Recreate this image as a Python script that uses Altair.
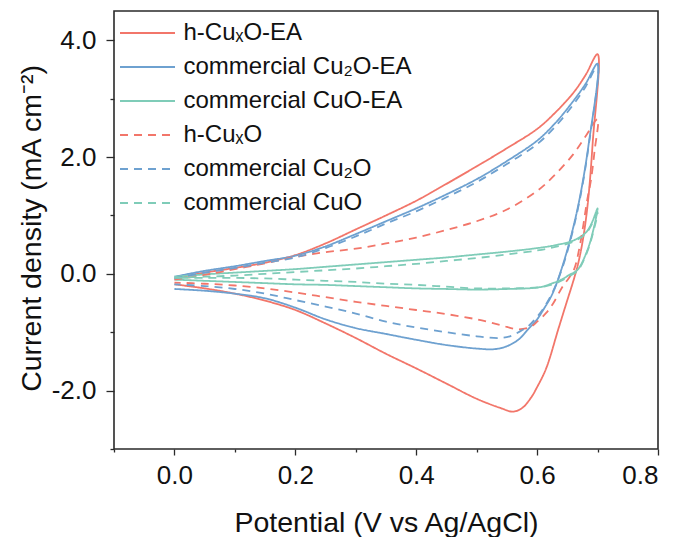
import altair as alt
import pandas as pd

# Series names (legend order) and styles
SERIES = [
    "h-CuₓO-EA",
    "commercial Cu₂O-EA",
    "commercial CuO-EA",
    "h-CuₓO",
    "commercial Cu₂O",
    "commercial CuO",
]
COLORS = ["#F2766A", "#6EA1D0", "#7FCCB8", "#F2766A", "#6EA1D0", "#7FCCB8"]
DASHES = [[1, 0], [1, 0], [1, 0], [8, 6], [8, 6], [8, 6]]

# Forward (anodic) scan potentials, V vs Ag/AgCl
V_FWD = [0.0, 0.05, 0.1, 0.15, 0.2, 0.25, 0.3, 0.35, 0.4, 0.45, 0.5, 0.55,
         0.6, 0.63, 0.66, 0.68, 0.7]
V_FWD_CUO = [0.0, 0.05, 0.1, 0.15, 0.2, 0.25, 0.3, 0.35, 0.4, 0.45, 0.5, 0.55,
             0.6, 0.63, 0.66, 0.68, 0.69, 0.7]

# h-CuxO-EA
hcuxo_ea_j_fwd = [-0.08, 0.02, 0.1, 0.19, 0.32, 0.52, 0.76, 1.0, 1.25, 1.54, 1.84,
                  2.15, 2.48, 2.76, 3.1, 3.4, 3.76]
hcuxo_ea_v_rev = [0.692, 0.684, 0.676, 0.668, 0.66, 0.65, 0.635, 0.615, 0.6,
                  0.59, 0.575, 0.56, 0.54, 0.5, 0.45, 0.4, 0.35, 0.3, 0.25, 0.2,
                  0.15, 0.1, 0.05, 0.0]
hcuxo_ea_j_rev = [2.25, 1.22, 0.6, 0.18, -0.12, -0.45, -0.95, -1.62, -1.94, -2.12,
                  -2.3, -2.36, -2.3, -2.14, -1.88, -1.62, -1.37, -1.1, -0.85,
                  -0.62, -0.46, -0.34, -0.25, -0.18]

# commercial Cu2O-EA
cu2o_ea_j_fwd = [-0.05, 0.05, 0.13, 0.22, 0.31, 0.47, 0.68, 0.9, 1.12, 1.36, 1.62,
                 1.93, 2.28, 2.58, 2.96, 3.25, 3.6]
cu2o_ea_v_rev = [0.685, 0.67, 0.655, 0.64, 0.625, 0.61, 0.6, 0.585, 0.57, 0.55,
                 0.53, 0.5, 0.45, 0.4, 0.35, 0.3, 0.25, 0.2, 0.15, 0.1, 0.05, 0.0]
cu2o_ea_j_rev = [2.2, 1.27, 0.6, 0.07, -0.35, -0.62, -0.78, -0.95, -1.12, -1.24,
                 -1.29, -1.28, -1.22, -1.13, -1.03, -0.93, -0.78, -0.58, -0.42,
                 -0.34, -0.29, -0.26]

# commercial CuO-EA
cuo_ea_j_fwd = [-0.05, -0.01, 0.02, 0.05, 0.08, 0.12, 0.16, 0.2, 0.24, 0.28, 0.33,
                0.38, 0.44, 0.49, 0.57, 0.7, 0.86, 1.12]
cuo_ea_v_rev = [0.693, 0.683, 0.667, 0.653, 0.64, 0.626, 0.604, 0.55, 0.5, 0.45,
                0.4, 0.35, 0.3, 0.25, 0.2, 0.15, 0.1, 0.05, 0.0]
cuo_ea_j_rev = [0.75, 0.4, 0.07, -0.02, -0.1, -0.16, -0.23, -0.26, -0.27, -0.26,
                -0.25, -0.23, -0.21, -0.19, -0.18, -0.16, -0.14, -0.12, -0.1]

# h-CuxO
hcuxo_j_fwd = [-0.1, -0.02, 0.08, 0.18, 0.29, 0.37, 0.43, 0.52, 0.62, 0.75, 0.9,
               1.1, 1.42, 1.7, 2.05, 2.35, 2.65]
hcuxo_v_rev = [0.695, 0.689, 0.683, 0.671, 0.661, 0.652, 0.642, 0.627, 0.615, 0.6,
               0.589, 0.567, 0.54, 0.5, 0.45, 0.4, 0.35, 0.3, 0.25, 0.2, 0.15,
               0.1, 0.05, 0.0]
hcuxo_j_rev = [2.1, 1.6, 1.27, 0.5, 0.07, -0.08, -0.22, -0.5, -0.67, -0.82, -0.91,
               -0.95, -0.88, -0.78, -0.69, -0.62, -0.55, -0.48, -0.4, -0.32,
               -0.25, -0.2, -0.17, -0.15]

# commercial Cu2O
cu2o_j_fwd = [-0.08, 0.02, 0.1, 0.19, 0.28, 0.44, 0.64, 0.86, 1.07, 1.31, 1.57,
              1.88, 2.22, 2.52, 2.9, 3.2, 3.56]
cu2o_v_rev = [0.685, 0.67, 0.655, 0.64, 0.625, 0.61, 0.598, 0.585, 0.571, 0.555,
              0.5375, 0.5, 0.45, 0.4, 0.35, 0.3, 0.25, 0.2, 0.15, 0.1, 0.05, 0.0]
cu2o_j_rev = [2.17, 1.24, 0.57, 0.05, -0.33, -0.6, -0.76, -0.9, -0.99, -1.07,
              -1.1, -1.07, -1.0, -0.92, -0.82, -0.68, -0.56, -0.45, -0.34, -0.26,
              -0.21, -0.18]

# commercial CuO
cuo_j_fwd = [-0.07, -0.05, -0.03, 0.0, 0.03, 0.06, 0.09, 0.13, 0.17, 0.22, 0.27,
             0.33, 0.4, 0.46, 0.55, 0.68, 0.84, 1.05]
cuo_v_rev = [0.693, 0.683, 0.667, 0.653, 0.64, 0.626, 0.604, 0.55, 0.5, 0.45, 0.4,
             0.35, 0.3, 0.25, 0.2, 0.15, 0.1, 0.05, 0.0]
cuo_j_rev = [0.72, 0.38, 0.05, -0.04, -0.12, -0.18, -0.23, -0.25, -0.25, -0.22,
             -0.19, -0.17, -0.14, -0.12, -0.1, -0.08, -0.07, -0.07, -0.07]

CURVES = [
    (SERIES[0], V_FWD, hcuxo_ea_j_fwd, hcuxo_ea_v_rev, hcuxo_ea_j_rev),
    (SERIES[1], V_FWD, cu2o_ea_j_fwd, cu2o_ea_v_rev, cu2o_ea_j_rev),
    (SERIES[2], V_FWD_CUO, cuo_ea_j_fwd, cuo_ea_v_rev, cuo_ea_j_rev),
    (SERIES[3], V_FWD, hcuxo_j_fwd, hcuxo_v_rev, hcuxo_j_rev),
    (SERIES[4], V_FWD, cu2o_j_fwd, cu2o_v_rev, cu2o_j_rev),
    (SERIES[5], V_FWD_CUO, cuo_j_fwd, cuo_v_rev, cuo_j_rev),
]

# Axis tick positions (majors labelled, minors unlabelled)
X_TICKS = [-0.1, 0.0, 0.1, 0.2, 0.3, 0.4, 0.5, 0.6, 0.7, 0.8]
Y_TICKS = [-3, -2, -1, 0, 1, 2, 3, 4]

rows = []
for name, vf, jf, vr, jr in CURVES:
    idx = 0
    for v, j in list(zip(vf, jf)) + list(zip(vr, jr)):
        rows.append({"series": name, "potential": v, "current": j, "idx": idx})
        idx += 1
df = pd.DataFrame(rows)

FONT = "Liberation Sans"
INK = "#111111"
FRAME = "#2a2a2a"

x_axis = alt.Axis(
    values=X_TICKS,
    labelExpr="round(datum.value*10) % 2 == 0 ? format(datum.value, '.1f') : ''",
    tickSize={"condition": {"test": "round(datum.value*10) % 2 != 0", "value": 3},
              "value": 6},
    tickColor=FRAME,
    tickWidth=1.3,
    domain=False,
    grid=False,
    labelFont=FONT,
    labelFontSize=26,
    labelColor=INK,
    labelPadding=7,
    title="Potential (V vs Ag/AgCl)",
    titleFont=FONT,
    titleFontSize=28.5,
    titleFontWeight="normal",
    titleColor=INK,
    titleBaseline="alphabetic",
    titleY=82,
)

y_axis = alt.Axis(
    values=Y_TICKS,
    labelExpr="abs(round(datum.value)) % 2 == 0 ? (datum.value < 0 ? '-' : '') + format(abs(datum.value), '.1f') : ''",
    tickSize={"condition": {"test": "abs(round(datum.value)) % 2 != 0", "value": 4},
              "value": 8},
    tickColor=FRAME,
    tickWidth=1.3,
    domain=False,
    grid=False,
    labelFont=FONT,
    labelFontSize=26,
    labelColor=INK,
    labelPadding=10,
    title="Current density (mA cm⁻²)",
    titleFont=FONT,
    titleFontSize=28.5,
    titleFontWeight="normal",
    titleColor=INK,
    titleBaseline="alphabetic",
    titleX=-74,
    titleY=217,
)

legend = alt.Legend(
    title=None,
    orient="none",
    legendX=6,
    legendY=10,
    padding=0,
    symbolType="M-2.5,0L2.5,0",
    symbolSize=484,
    symbolStrokeWidth=2,
    symbolOffset=15.5,
    labelOffset=24,
    labelFont=FONT,
    labelFontSize=24,
    labelColor=INK,
    labelLimit=0,
    rowPadding=10,
)

chart = alt.Chart(df).mark_line(
    strokeWidth=1.8, interpolate="catmull-rom"
).encode(
    x=alt.X("potential:Q", scale=alt.Scale(domain=[-0.1, 0.8], nice=False, zero=False),
            axis=x_axis),
    y=alt.Y("current:Q", scale=alt.Scale(domain=[-3.0, 4.5], nice=False, zero=False),
            axis=y_axis),
    color=alt.Color("series:N", scale=alt.Scale(domain=SERIES, range=COLORS),
                    legend=legend),
    strokeDash=alt.StrokeDash("series:N", scale=alt.Scale(domain=SERIES, range=DASHES),
                              legend=legend),
    order=alt.Order("idx:Q"),
).properties(
    width=544,
    height=438,
    autosize=alt.AutoSizeParams(type="none"),
    padding={"left": 114, "top": 11, "right": 22, "bottom": 88},
    background="white",
).configure_view(
    stroke=FRAME,
    strokeWidth=1.6,
)

chart.save("out.html", embed_options={"renderer": "svg", "actions": False})
